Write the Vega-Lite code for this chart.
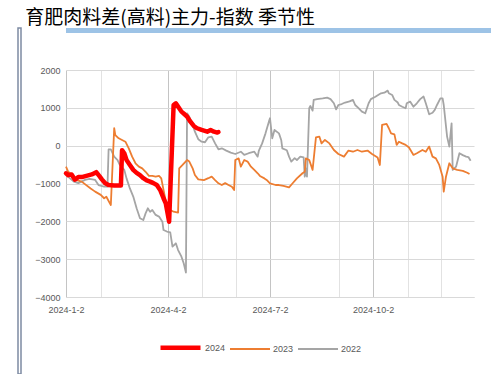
{
 "$schema": "https://vega.github.io/schema/vega-lite/v6.json",
 "padding": {"left": 17, "top": 9, "right": 0, "bottom": 0},
 "background": "white",
 "title": {"text": "育肥肉料差(高料)主力-指数 季节性", "anchor": "start", "frame": "bounds", "font": "Noto Sans CJK SC", "fontSize": 19, "fontWeight": "normal", "color": "#000000", "offset": -1, "dx": 8},
 "columns": 2,
 "spacing": 2,
 "concat": [
  {
   "width": 3, "height": 346,
   "view": {"fill": null, "stroke": "#7d8ba3", "strokeWidth": 1.5},
   "data": {"values": []},
   "mark": "rule",
   "encoding": {}
  },
  {
   "columns": 1,
   "spacing": 33,
   "concat": [
    {
     "width": 427, "height": 5,
     "view": {"fill": "#9dc3e6", "stroke": null},
     "data": {"values": []},
     "mark": "rule",
     "encoding": {}
    },
    {
     "width": 408, "height": 227,
     "data": {"values": [
      {"date":"2024-01-02","v":-730,"year":"2024"},{"date":"2024-01-04","v":-780,"year":"2024"},{"date":"2024-01-07","v":-760,"year":"2024"},{"date":"2024-01-10","v":-900,"year":"2024"},{"date":"2024-01-13","v":-830,"year":"2024"},{"date":"2024-01-16","v":-830,"year":"2024"},{"date":"2024-01-21","v":-790,"year":"2024"},{"date":"2024-01-25","v":-760,"year":"2024"},{"date":"2024-01-29","v":-700,"year":"2024"},{"date":"2024-02-01","v":-810,"year":"2024"},{"date":"2024-02-03","v":-890,"year":"2024"},{"date":"2024-02-06","v":-995,"year":"2024"},{"date":"2024-02-09","v":-1040,"year":"2024"},{"date":"2024-02-14","v":-1050,"year":"2024"},{"date":"2024-02-20","v":-1050,"year":"2024"},{"date":"2024-02-21","v":-120,"year":"2024"},{"date":"2024-02-23","v":-200,"year":"2024"},{"date":"2024-02-25","v":-380,"year":"2024"},{"date":"2024-02-28","v":-510,"year":"2024"},{"date":"2024-03-02","v":-640,"year":"2024"},{"date":"2024-03-05","v":-720,"year":"2024"},{"date":"2024-03-08","v":-780,"year":"2024"},{"date":"2024-03-11","v":-860,"year":"2024"},{"date":"2024-03-14","v":-920,"year":"2024"},{"date":"2024-03-17","v":-950,"year":"2024"},{"date":"2024-03-20","v":-990,"year":"2024"},{"date":"2024-03-23","v":-1040,"year":"2024"},{"date":"2024-03-26","v":-1170,"year":"2024"},{"date":"2024-03-29","v":-1390,"year":"2024"},{"date":"2024-03-31","v":-1525,"year":"2024"},{"date":"2024-04-03","v":-2010,"year":"2024"},{"date":"2024-04-07","v":1075,"year":"2024"},{"date":"2024-04-09","v":1120,"year":"2024"},{"date":"2024-04-12","v":990,"year":"2024"},{"date":"2024-04-14","v":900,"year":"2024"},{"date":"2024-04-16","v":850,"year":"2024"},{"date":"2024-04-19","v":770,"year":"2024"},{"date":"2024-04-22","v":635,"year":"2024"},{"date":"2024-04-25","v":520,"year":"2024"},{"date":"2024-04-28","v":460,"year":"2024"},{"date":"2024-05-02","v":415,"year":"2024"},{"date":"2024-05-07","v":370,"year":"2024"},{"date":"2024-05-10","v":415,"year":"2024"},{"date":"2024-05-13","v":370,"year":"2024"},{"date":"2024-05-16","v":345,"year":"2024"},{"date":"2024-05-17","v":360,"year":"2024"},

      {"date":"2024-01-02","v":-555,"year":"2023"},{"date":"2024-01-04","v":-690,"year":"2023"},{"date":"2024-01-07","v":-760,"year":"2023"},{"date":"2024-01-10","v":-900,"year":"2023"},{"date":"2024-01-16","v":-950,"year":"2023"},{"date":"2024-01-24","v":-1130,"year":"2023"},{"date":"2024-01-28","v":-1215,"year":"2023"},{"date":"2024-02-02","v":-1300,"year":"2023"},{"date":"2024-02-05","v":-1390,"year":"2023"},{"date":"2024-02-07","v":-1350,"year":"2023"},{"date":"2024-02-11","v":-1570,"year":"2023"},{"date":"2024-02-14","v":460,"year":"2023"},{"date":"2024-02-15","v":280,"year":"2023"},{"date":"2024-02-18","v":195,"year":"2023"},{"date":"2024-02-21","v":150,"year":"2023"},{"date":"2024-02-24","v":105,"year":"2023"},{"date":"2024-02-27","v":-70,"year":"2023"},{"date":"2024-03-01","v":-290,"year":"2023"},{"date":"2024-03-04","v":-465,"year":"2023"},{"date":"2024-03-07","v":-555,"year":"2023"},{"date":"2024-03-10","v":-600,"year":"2023"},{"date":"2024-03-13","v":-690,"year":"2023"},{"date":"2024-03-16","v":-800,"year":"2023"},{"date":"2024-03-19","v":-800,"year":"2023"},{"date":"2024-03-22","v":-820,"year":"2023"},{"date":"2024-03-25","v":-800,"year":"2023"},{"date":"2024-03-27","v":-865,"year":"2023"},{"date":"2024-03-29","v":-1170,"year":"2023"},{"date":"2024-04-01","v":-1610,"year":"2023"},{"date":"2024-04-04","v":-1700,"year":"2023"},{"date":"2024-04-07","v":-1745,"year":"2023"},{"date":"2024-04-11","v":-1770,"year":"2023"},{"date":"2024-04-12","v":-600,"year":"2023"},{"date":"2024-04-15","v":-510,"year":"2023"},{"date":"2024-04-19","v":-380,"year":"2023"},{"date":"2024-04-21","v":-420,"year":"2023"},{"date":"2024-04-24","v":-600,"year":"2023"},{"date":"2024-04-26","v":-775,"year":"2023"},{"date":"2024-04-29","v":-890,"year":"2023"},{"date":"2024-05-04","v":-910,"year":"2023"},{"date":"2024-05-08","v":-860,"year":"2023"},{"date":"2024-05-11","v":-820,"year":"2023"},{"date":"2024-05-14","v":-910,"year":"2023"},{"date":"2024-05-17","v":-995,"year":"2023"},{"date":"2024-05-20","v":-1040,"year":"2023"},{"date":"2024-05-23","v":-990,"year":"2023"},{"date":"2024-05-26","v":-1040,"year":"2023"},{"date":"2024-05-29","v":-1085,"year":"2023"},{"date":"2024-05-31","v":-1170,"year":"2023"},{"date":"2024-06-01","v":-380,"year":"2023"},{"date":"2024-06-04","v":-335,"year":"2023"},{"date":"2024-06-06","v":-555,"year":"2023"},{"date":"2024-06-09","v":-380,"year":"2023"},{"date":"2024-06-12","v":-420,"year":"2023"},{"date":"2024-06-15","v":-555,"year":"2023"},{"date":"2024-06-18","v":-640,"year":"2023"},{"date":"2024-06-21","v":-730,"year":"2023"},{"date":"2024-06-23","v":-800,"year":"2023"},{"date":"2024-06-27","v":-865,"year":"2023"},{"date":"2024-06-29","v":-905,"year":"2023"},{"date":"2024-07-02","v":-995,"year":"2023"},{"date":"2024-07-07","v":-1040,"year":"2023"},{"date":"2024-07-10","v":-1040,"year":"2023"},{"date":"2024-07-14","v":-1060,"year":"2023"},{"date":"2024-07-19","v":-1100,"year":"2023"},{"date":"2024-07-22","v":-1000,"year":"2023"},{"date":"2024-07-26","v":-865,"year":"2023"},{"date":"2024-07-31","v":-730,"year":"2023"},{"date":"2024-08-02","v":-690,"year":"2023"},{"date":"2024-08-03","v":-335,"year":"2023"},{"date":"2024-08-06","v":-380,"year":"2023"},{"date":"2024-08-09","v":-640,"year":"2023"},{"date":"2024-08-12","v":220,"year":"2023"},{"date":"2024-08-15","v":240,"year":"2023"},{"date":"2024-08-17","v":60,"year":"2023"},{"date":"2024-08-20","v":150,"year":"2023"},{"date":"2024-08-24","v":60,"year":"2023"},{"date":"2024-08-28","v":-115,"year":"2023"},{"date":"2024-09-01","v":-220,"year":"2023"},{"date":"2024-09-06","v":-290,"year":"2023"},{"date":"2024-09-10","v":-130,"year":"2023"},{"date":"2024-09-14","v":-160,"year":"2023"},{"date":"2024-09-18","v":-115,"year":"2023"},{"date":"2024-09-22","v":-160,"year":"2023"},{"date":"2024-09-27","v":-130,"year":"2023"},{"date":"2024-10-01","v":-220,"year":"2023"},{"date":"2024-10-06","v":-310,"year":"2023"},{"date":"2024-10-08","v":-510,"year":"2023"},{"date":"2024-10-10","v":550,"year":"2023"},{"date":"2024-10-14","v":575,"year":"2023"},{"date":"2024-10-16","v":460,"year":"2023"},{"date":"2024-10-18","v":325,"year":"2023"},{"date":"2024-10-21","v":300,"year":"2023"},{"date":"2024-10-23","v":20,"year":"2023"},{"date":"2024-10-25","v":105,"year":"2023"},{"date":"2024-10-28","v":60,"year":"2023"},{"date":"2024-10-31","v":20,"year":"2023"},{"date":"2024-11-03","v":-50,"year":"2023"},{"date":"2024-11-07","v":-245,"year":"2023"},{"date":"2024-11-10","v":-200,"year":"2023"},{"date":"2024-11-15","v":-115,"year":"2023"},{"date":"2024-11-18","v":-160,"year":"2023"},{"date":"2024-11-21","v":-25,"year":"2023"},{"date":"2024-11-24","v":-290,"year":"2023"},{"date":"2024-11-27","v":-335,"year":"2023"},{"date":"2024-11-30","v":-510,"year":"2023"},{"date":"2024-12-03","v":-820,"year":"2023"},{"date":"2024-12-04","v":-1215,"year":"2023"},{"date":"2024-12-06","v":-820,"year":"2023"},{"date":"2024-12-09","v":-465,"year":"2023"},{"date":"2024-12-12","v":-600,"year":"2023"},{"date":"2024-12-16","v":-640,"year":"2023"},{"date":"2024-12-21","v":-665,"year":"2023"},{"date":"2024-12-25","v":-715,"year":"2023"},{"date":"2024-12-27","v":-750,"year":"2023"},

      {"date":"2024-01-02","v":-730,"year":"2022"},{"date":"2024-01-05","v":-850,"year":"2022"},{"date":"2024-01-09","v":-950,"year":"2022"},{"date":"2024-01-13","v":-990,"year":"2022"},{"date":"2024-01-19","v":-905,"year":"2022"},{"date":"2024-01-23","v":-880,"year":"2022"},{"date":"2024-01-28","v":-905,"year":"2022"},{"date":"2024-01-31","v":-1040,"year":"2022"},{"date":"2024-02-05","v":-1080,"year":"2022"},{"date":"2024-02-08","v":-1085,"year":"2022"},{"date":"2024-02-09","v":-100,"year":"2022"},{"date":"2024-02-11","v":-100,"year":"2022"},{"date":"2024-02-14","v":-290,"year":"2022"},{"date":"2024-02-17","v":-380,"year":"2022"},{"date":"2024-02-19","v":-510,"year":"2022"},{"date":"2024-02-23","v":-640,"year":"2022"},{"date":"2024-02-25","v":-865,"year":"2022"},{"date":"2024-02-28","v":-1130,"year":"2022"},{"date":"2024-03-02","v":-1345,"year":"2022"},{"date":"2024-03-05","v":-1655,"year":"2022"},{"date":"2024-03-08","v":-1920,"year":"2022"},{"date":"2024-03-11","v":-1965,"year":"2022"},{"date":"2024-03-13","v":-1790,"year":"2022"},{"date":"2024-03-15","v":-1655,"year":"2022"},{"date":"2024-03-17","v":-1750,"year":"2022"},{"date":"2024-03-19","v":-1700,"year":"2022"},{"date":"2024-03-22","v":-1830,"year":"2022"},{"date":"2024-03-25","v":-1875,"year":"2022"},{"date":"2024-03-28","v":-2010,"year":"2022"},{"date":"2024-03-29","v":-2230,"year":"2022"},{"date":"2024-04-01","v":-2270,"year":"2022"},{"date":"2024-04-04","v":-2290,"year":"2022"},{"date":"2024-04-06","v":-2670,"year":"2022"},{"date":"2024-04-09","v":-2580,"year":"2022"},{"date":"2024-04-11","v":-2760,"year":"2022"},{"date":"2024-04-14","v":-2935,"year":"2022"},{"date":"2024-04-16","v":-3110,"year":"2022"},{"date":"2024-04-18","v":-3355,"year":"2022"},{"date":"2024-04-19","v":855,"year":"2022"},{"date":"2024-04-21","v":765,"year":"2022"},{"date":"2024-04-24","v":545,"year":"2022"},{"date":"2024-04-26","v":370,"year":"2022"},{"date":"2024-04-29","v":170,"year":"2022"},{"date":"2024-05-02","v":105,"year":"2022"},{"date":"2024-05-05","v":90,"year":"2022"},{"date":"2024-05-08","v":220,"year":"2022"},{"date":"2024-05-11","v":240,"year":"2022"},{"date":"2024-05-14","v":60,"year":"2022"},{"date":"2024-05-17","v":-95,"year":"2022"},{"date":"2024-05-20","v":-70,"year":"2022"},{"date":"2024-05-24","v":-130,"year":"2022"},{"date":"2024-05-28","v":-185,"year":"2022"},{"date":"2024-06-01","v":-220,"year":"2022"},{"date":"2024-06-06","v":-160,"year":"2022"},{"date":"2024-06-09","v":-245,"year":"2022"},{"date":"2024-06-13","v":-200,"year":"2022"},{"date":"2024-06-18","v":-160,"year":"2022"},{"date":"2024-06-21","v":-290,"year":"2022"},{"date":"2024-06-22","v":-140,"year":"2022"},{"date":"2024-06-25","v":60,"year":"2022"},{"date":"2024-06-28","v":325,"year":"2022"},{"date":"2024-07-01","v":635,"year":"2022"},{"date":"2024-07-02","v":725,"year":"2022"},{"date":"2024-07-04","v":195,"year":"2022"},{"date":"2024-07-06","v":415,"year":"2022"},{"date":"2024-07-10","v":325,"year":"2022"},{"date":"2024-07-12","v":150,"year":"2022"},{"date":"2024-07-13","v":-70,"year":"2022"},{"date":"2024-07-17","v":-120,"year":"2022"},{"date":"2024-07-19","v":-290,"year":"2022"},{"date":"2024-07-21","v":-420,"year":"2022"},{"date":"2024-07-24","v":-330,"year":"2022"},{"date":"2024-07-26","v":-380,"year":"2022"},{"date":"2024-07-29","v":-290,"year":"2022"},{"date":"2024-08-01","v":-310,"year":"2022"},{"date":"2024-08-02","v":-820,"year":"2022"},{"date":"2024-08-03","v":-600,"year":"2022"},{"date":"2024-08-04","v":-820,"year":"2022"},{"date":"2024-08-06","v":990,"year":"2022"},{"date":"2024-08-07","v":1050,"year":"2022"},{"date":"2024-08-09","v":925,"year":"2022"},{"date":"2024-08-10","v":1210,"year":"2022"},{"date":"2024-08-13","v":1230,"year":"2022"},{"date":"2024-08-18","v":1250,"year":"2022"},{"date":"2024-08-22","v":1270,"year":"2022"},{"date":"2024-08-25","v":1230,"year":"2022"},{"date":"2024-08-28","v":1120,"year":"2022"},{"date":"2024-08-30","v":960,"year":"2022"},{"date":"2024-09-01","v":1075,"year":"2022"},{"date":"2024-09-04","v":1100,"year":"2022"},{"date":"2024-09-07","v":1140,"year":"2022"},{"date":"2024-09-11","v":1170,"year":"2022"},{"date":"2024-09-14","v":1210,"year":"2022"},{"date":"2024-09-16","v":1075,"year":"2022"},{"date":"2024-09-19","v":990,"year":"2022"},{"date":"2024-09-22","v":900,"year":"2022"},{"date":"2024-09-25","v":855,"year":"2022"},{"date":"2024-09-28","v":1120,"year":"2022"},{"date":"2024-09-30","v":1230,"year":"2022"},{"date":"2024-10-04","v":1295,"year":"2022"},{"date":"2024-10-09","v":1385,"year":"2022"},{"date":"2024-10-12","v":1400,"year":"2022"},{"date":"2024-10-15","v":1455,"year":"2022"},{"date":"2024-10-16","v":1385,"year":"2022"},{"date":"2024-10-19","v":1340,"year":"2022"},{"date":"2024-10-21","v":1210,"year":"2022"},{"date":"2024-10-24","v":1140,"year":"2022"},{"date":"2024-10-25","v":1075,"year":"2022"},{"date":"2024-10-28","v":1030,"year":"2022"},{"date":"2024-10-31","v":990,"year":"2022"},{"date":"2024-11-01","v":1120,"year":"2022"},{"date":"2024-11-04","v":1165,"year":"2022"},{"date":"2024-11-07","v":1030,"year":"2022"},{"date":"2024-11-10","v":1120,"year":"2022"},{"date":"2024-11-13","v":1230,"year":"2022"},{"date":"2024-11-16","v":1300,"year":"2022"},{"date":"2024-11-18","v":1120,"year":"2022"},{"date":"2024-11-21","v":830,"year":"2022"},{"date":"2024-11-24","v":870,"year":"2022"},{"date":"2024-11-26","v":945,"year":"2022"},{"date":"2024-11-28","v":1075,"year":"2022"},{"date":"2024-12-01","v":1250,"year":"2022"},{"date":"2024-12-03","v":1250,"year":"2022"},{"date":"2024-12-04","v":1075,"year":"2022"},{"date":"2024-12-07","v":240,"year":"2022"},{"date":"2024-12-09","v":-25,"year":"2022"},{"date":"2024-12-11","v":590,"year":"2022"},{"date":"2024-12-12","v":-640,"year":"2022"},{"date":"2024-12-15","v":-555,"year":"2022"},{"date":"2024-12-18","v":-200,"year":"2022"},{"date":"2024-12-21","v":-250,"year":"2022"},{"date":"2024-12-24","v":-290,"year":"2022"},{"date":"2024-12-26","v":-300,"year":"2022"},{"date":"2024-12-28","v":-400,"year":"2022"}
     ]},
     "encoding": {
      "x": {"field": "date", "type": "temporal",
       "scale": {"type": "utc", "domain": [{"year": 2024, "month": 1, "date": 2, "utc": true}, {"year": 2024, "month": 12, "date": 31, "utc": true}]},
       "axis": {"title": null, "values": [{"year": 2024, "month": 1, "date": 2, "utc": true}, {"year": 2024, "month": 2, "date": 2, "utc": true}, {"year": 2024, "month": 4, "date": 2, "utc": true}, {"year": 2024, "month": 5, "date": 2, "utc": true}, {"year": 2024, "month": 6, "date": 2, "utc": true}, {"year": 2024, "month": 7, "date": 2, "utc": true}, {"year": 2024, "month": 9, "date": 2, "utc": true}, {"year": 2024, "month": 10, "date": 2, "utc": true}, {"year": 2024, "month": 11, "date": 2, "utc": true}, {"year": 2024, "month": 12, "date": 2, "utc": true}],
        "labelExpr": "(utcmonth(datum.value) % 3 == 0) ? (utcyear(datum.value) + '-' + (utcmonth(datum.value) + 1) + '-' + utcdate(datum.value)) : ''",
        "labelFlush": false, "labelOverlap": false, "labelPadding": 8, "ticks": false,
        "domain": true, "domainColor": "#d9d9d9",
        "grid": true, "gridColor": {"condition": {"test": "utcmonth(datum.value) % 3 == 0", "value": "#c4c4c4"}, "value": "#e2e2e2"}}},
      "y": {"field": "v", "type": "quantitative",
       "scale": {"domain": [-4000, 2000], "nice": false},
       "axis": {"title": " ", "titleFontSize": 1, "titlePadding": 0, "values": [-4000, -3000, -2000, -1000, 0, 1000, 2000], "format": "d", "domain": false, "ticks": false, "labelPadding": 6, "minExtent": 41, "grid": true, "gridColor": "#d9d9d9"}},
      "color": {"field": "year", "type": "nominal", "scale": {"domain": ["2024", "2023", "2022"], "range": ["#ff0000", "#ed7d31", "#a5a5a5"]}, "legend": {"title": null}},
      "strokeWidth": {"field": "year", "type": "nominal", "scale": {"type": "ordinal", "domain": ["2024", "2023", "2022"], "range": [4.5, 1.8, 1.8]}, "legend": {"title": null}}
     },
     "layer": [
      {"transform": [{"filter": "datum.year == '2022'"}], "mark": {"type": "line", "strokeJoin": "round"}},
      {"transform": [{"filter": "datum.year == '2023'"}], "mark": {"type": "line", "strokeJoin": "round"}},
      {"transform": [{"filter": "datum.year == '2024'"}], "mark": {"type": "line", "strokeJoin": "round", "strokeCap": "round"}}
     ]
    }
   ]
  }
 ],
 "config": {
  "font": "Liberation Sans",
  "view": {"stroke": null},
  "axis": {"labelFont": "Liberation Sans", "labelFontSize": 9, "labelColor": "#595959"},
  "legend": {"orient": "none", "legendX": 140, "legendY": 297, "direction": "horizontal", "padding": 0, "symbolType": "stroke", "symbolSize": 1600, "labelFont": "Liberation Sans", "labelFontSize": 9, "labelColor": "#595959", "labelOffset": 2, "columnPadding": 0}
 }
}
